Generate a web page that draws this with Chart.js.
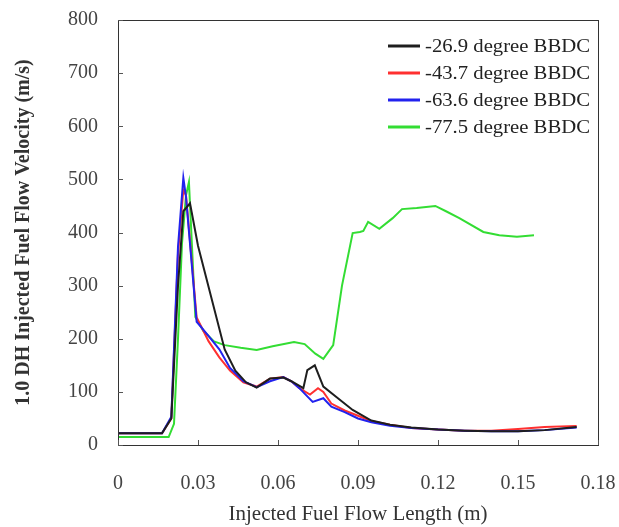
<!DOCTYPE html>
<html>
<head>
<meta charset="utf-8">
<script src="https://cdn.jsdelivr.net/npm/chart.js@4/dist/chart.umd.min.js"></script>
<style>
  html, body { margin: 0; padding: 0; background: #fff; }
  #wrap { width: 619px; height: 527px; position: relative; }
</style>
</head>
<body>
<div id="wrap"><canvas id="c" width="619" height="527"></canvas></div>
<script>
// ---- Data ----
const seriesLabels = ['-26.9 degree BBDC', '-43.7 degree BBDC', '-63.6 degree BBDC', '-77.5 degree BBDC'];

const xBlack = [0, 0.0165, 0.020, 0.0225, 0.0245, 0.027, 0.030, 0.040, 0.044, 0.048, 0.052, 0.057, 0.062, 0.065, 0.0695, 0.071, 0.0738, 0.077, 0.082, 0.088, 0.095, 0.102, 0.110, 0.120, 0.130, 0.140, 0.150, 0.160, 0.172];
const yBlack = [22, 22, 50, 300, 440, 455, 375, 180, 140, 118, 108, 125, 127, 120, 107, 141, 150, 110, 90, 66, 46, 38, 33, 29, 27, 26, 26, 28, 34];

const xRed = [0, 0.0165, 0.020, 0.0225, 0.0245, 0.0255, 0.0295, 0.034, 0.038, 0.042, 0.047, 0.052, 0.057, 0.062, 0.065, 0.068, 0.072, 0.075, 0.077, 0.080, 0.085, 0.090, 0.095, 0.102, 0.110, 0.120, 0.130, 0.140, 0.150, 0.160, 0.172];
const yRed = [22, 22, 50, 360, 480, 470, 240, 195, 165, 140, 118, 110, 125, 128, 120, 107, 95, 107, 100, 78, 65, 55, 45, 38, 32, 29, 27, 27, 30, 34, 36];

const xBlue = [0, 0.0165, 0.020, 0.0225, 0.0245, 0.0255, 0.0295, 0.034, 0.038, 0.042, 0.047, 0.052, 0.057, 0.062, 0.065, 0.068, 0.073, 0.077, 0.080, 0.085, 0.090, 0.095, 0.102, 0.110, 0.120, 0.130, 0.140, 0.150, 0.160, 0.172];
const yBlue = [22, 22, 53, 373, 503, 467, 232, 205, 180, 145, 120, 109, 120, 128, 120, 107, 81, 88, 72, 62, 50, 43, 36, 32, 29, 27, 26, 26, 28, 33];

const xGreen = [0, 0.019, 0.021, 0.0225, 0.024, 0.0255, 0.0266, 0.029, 0.032, 0.036, 0.040, 0.046, 0.052, 0.058, 0.066, 0.070, 0.074, 0.077, 0.0807, 0.084, 0.088, 0.0907, 0.092, 0.0938, 0.098, 0.103, 0.1065, 0.112, 0.119, 0.123, 0.128, 0.137, 0.143, 0.1496, 0.156];
const yGreen = [15, 15, 40, 200, 380, 470, 495, 241, 215, 195, 188, 183, 179, 186, 194, 190, 172, 162, 188, 300, 399, 401, 403, 420, 407, 427, 444, 446, 450, 440, 427, 401, 395, 392, 395];

const xTicks = [0, 0.03, 0.06, 0.09, 0.12, 0.15, 0.18];
const xTickLabels = ['0', '0.03', '0.06', '0.09', '0.12', '0.15', '0.18'];
const yTicks = [0, 100, 200, 300, 400, 500, 600, 700, 800];

const xTitle = 'Injected Fuel Flow Length (m)';
const yTitle = '1.0 DH Injected Fuel Flow Velocity (m/s)';

// ---- Styling ----
const colors = ['#1e1e1e', '#ff3030', '#2222ee', '#33dd33'];
const SERIF = '"Liberation Serif", "DejaVu Serif", serif';

function pts(xs, ys) { return xs.map((x, i) => ({ x: x, y: ys[i] })); }

const datasets = [
  [xBlack, yBlack], [xRed, yRed], [xBlue, yBlue], [xGreen, yGreen]
].map((p, i) => ({
  label: seriesLabels[i],
  data: pts(p[0], p[1]),
  borderColor: colors[i],
  backgroundColor: colors[i],
  borderWidth: 2,
  pointRadius: 0,
  tension: 0,
  fill: false
}));
datasets[0].order = 1; datasets[1].order = 3; datasets[2].order = 2; datasets[3].order = 4;

const frameAndLegend = {
  id: 'frameAndLegend',
  afterDatasetsDraw(chart) {
    const ctx = chart.ctx;
    const a = chart.chartArea;
    const xs = chart.scales.x, ys = chart.scales.y;
    ctx.save();
    ctx.strokeStyle = '#333';
    ctx.lineWidth = 1;
    ctx.strokeRect(Math.round(a.left) + 0.5, Math.round(a.top) + 0.5, Math.round(a.right - a.left), Math.round(a.bottom - a.top));
    ctx.strokeStyle = '#555';
    ctx.beginPath();
    yTicks.forEach(v => {
      const py = Math.round(ys.getPixelForValue(v)) + 0.5;
      ctx.moveTo(a.left, py); ctx.lineTo(a.left + 5, py);
    });
    xTicks.forEach(v => {
      const px = Math.round(xs.getPixelForValue(v)) + 0.5;
      ctx.moveTo(px, a.bottom); ctx.lineTo(px, a.bottom - 5);
    });
    ctx.stroke();
    // legend
    const lx0 = 388, lx1 = 420, tx = 425, y0 = 46, dy = 27;
    ctx.font = '18px ' + SERIF;
    ctx.textBaseline = 'middle';
    ctx.textAlign = 'left';
    chart.data.datasets.forEach((ds, i) => {
      const y = y0 + i * dy;
      ctx.strokeStyle = ds.borderColor;
      ctx.lineWidth = 3;
      ctx.beginPath(); ctx.moveTo(lx0, y); ctx.lineTo(lx1, y); ctx.stroke();
      ctx.fillStyle = '#222';
      ctx.save();
      ctx.translate(tx, y + 1);
      ctx.scale(1.15, 1);
      ctx.fillText(ds.label, 0, 0);
      ctx.restore();
    });
    ctx.restore();
  }
};

new Chart(document.getElementById('c'), {
  type: 'line',
  data: { datasets: datasets },
  options: {
    responsive: false,
    animation: false,
    devicePixelRatio: 1,
    layout: { padding: { left: 8, right: 21, top: 20, bottom: 0 } },
    plugins: { legend: { display: false }, tooltip: { enabled: false } },
    scales: {
      x: {
        type: 'linear',
        min: 0, max: 0.18,
        afterBuildTicks(scale) { scale.ticks = xTicks.map(v => ({ value: v })); },
        afterFit(scale) { scale.height = 82; scale.paddingLeft = 0; scale.paddingRight = 0; },
        grid: { display: false, drawTicks: false },
        border: { display: false },
        ticks: {
          padding: 27,
          color: '#444',
          font: { family: SERIF, size: 20 },
          maxRotation: 0,
          autoSkip: false,
          callback: (v, i) => xTickLabels[i]
        },
        title: {
          display: true, text: xTitle, color: '#333',
          font: { family: SERIF, size: 21 },
          padding: { top: 0, bottom: 0 }
        }
      },
      y: {
        type: 'linear',
        min: 0, max: 800,
        afterBuildTicks(scale) { scale.ticks = yTicks.map(v => ({ value: v })); },
        afterFit(scale) { scale.width = 110; scale.paddingTop = 0; scale.paddingBottom = 0; },
        grid: { display: false, drawTicks: false },
        border: { display: false },
        ticks: {
          padding: 20,
          color: '#444',
          font: { family: SERIF, size: 20 },
          autoSkip: false
        },
        title: {
          display: true, text: yTitle, color: '#333',
          font: { family: SERIF, size: 20, weight: 'bold' },
          padding: { top: 4, bottom: 4 }
        }
      }
    }
  },
  plugins: [frameAndLegend]
});
</script>
</body>
</html>
